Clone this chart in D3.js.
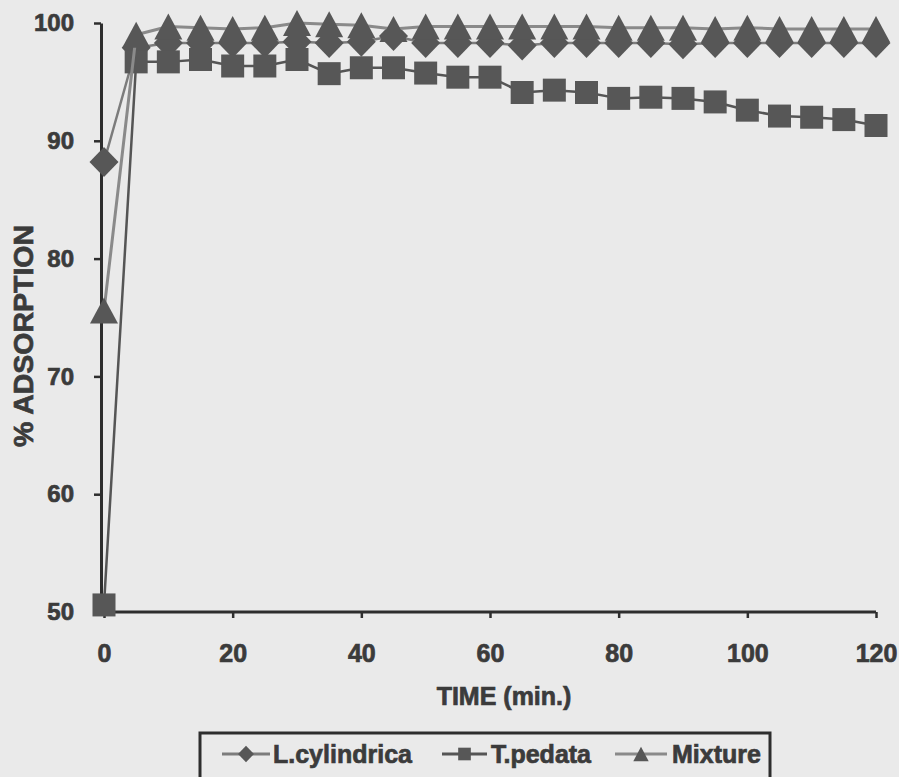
<!DOCTYPE html>
<html>
<head>
<meta charset="utf-8">
<script src="https://cdn.jsdelivr.net/npm/d3@7"></script>
<style>
  html, body { margin: 0; padding: 0; background: #eaeaea; }
  svg { display: block; }
  text { font-family: "Liberation Sans", Arial, sans-serif; font-weight: bold; fill: #3b3b3b; stroke: #3b3b3b; stroke-width: 0.7px; }
</style>
</head>
<body>
<svg id="chart" width="899" height="777"></svg>
<script>
// Sampling times (minutes)
const times = [0, 5, 10, 15, 20, 25, 30, 35, 40, 45, 50, 55, 60, 65, 70, 75, 80, 85, 90, 95, 100, 105, 110, 115, 120];

// Adsorption (%) per sorbent
const lCylindrica = [88.2, 97.9, 98.3, 98.3, 98.3, 98.3, 98.4, 98.3, 98.4, 98.9, 98.3, 98.3, 98.3, 98.1, 98.3, 98.3, 98.3, 98.3, 98.2, 98.3, 98.3, 98.3, 98.3, 98.3, 98.3];
const tPedata     = [50.6, 96.7, 96.7, 96.9, 96.35, 96.35, 96.9, 95.7, 96.2, 96.2, 95.75, 95.4, 95.4, 94.1, 94.3, 94.1, 93.6, 93.7, 93.6, 93.3, 92.6, 92.1, 92.0, 91.8, 91.3];
const mixture     = [75.6, 99.0, 99.7, 99.6, 99.5, 99.6, 100.0, 99.9, 99.8, 99.5, 99.7, 99.7, 99.7, 99.7, 99.7, 99.7, 99.6, 99.6, 99.6, 99.5, 99.6, 99.5, 99.5, 99.5, 99.5];

const seriesNames = ["L.cylindrica", "T.pedata", "Mixture"];
const xTicks = [0, 20, 40, 60, 80, 100, 120];
const yTicks = [50, 60, 70, 80, 90, 100];
const xTitle = "TIME (min.)";
const yTitle = "% ADSORPTION";

const svg = d3.select("#chart");

const x = d3.scaleLinear().domain([0, 120]).range([104, 876]);
const y = d3.scaleLinear().domain([50, 100]).range([612, 23]);

// Marker shapes, centred on the data point
const markerPaths = {
  diamond:  s => `M0,${-15*s}L${14.5*s},0L0,${15*s}L${-14.5*s},0Z`,
  square:   s => `M${-11.5*s},${-11.5*s}h${23*s}v${23*s}h${-23*s}Z`,
  triangle: s => `M0,${-13*s}L${14*s},${13*s}L${-14*s},${13*s}Z`
};

const series = [
  { name: seriesNames[0], values: lCylindrica, marker: "diamond",  lineColor: "#7c7c7c", lineWidth: 2.5 },
  { name: seriesNames[1], values: tPedata,     marker: "square",   lineColor: "#555555", lineWidth: 2.5 },
  { name: seriesNames[2], values: mixture,     marker: "triangle", lineColor: "#8a8a8a", lineWidth: 3 }
];
const markerFill = "#575757";

// Axes
const yAxis = d3.axisLeft(y).tickValues(yTicks).tickSize(7).tickPadding(20).tickSizeOuter(0);
const gy = svg.append("g").attr("transform", "translate(101,0)").call(yAxis);
gy.select(".domain").attr("stroke", "#2e2e2e").attr("stroke-width", 3);
gy.selectAll(".tick line").attr("stroke", "#2e2e2e").attr("stroke-width", 2.5);
gy.selectAll(".tick text").attr("font-size", 24).attr("fill", "#3b3b3b");

const xAxis = d3.axisBottom(x).tickValues(xTicks).tickSize(6).tickPadding(26).tickSizeOuter(0);
const gx = svg.append("g").attr("transform", `translate(0,${y(50)})`).call(xAxis);
gx.select(".domain").attr("stroke", "#2e2e2e").attr("stroke-width", 3).attr("d", `M101,0H${x(120)}`);
gx.selectAll(".tick line").attr("stroke", "#2e2e2e").attr("stroke-width", 2.5);
gx.selectAll(".tick text").attr("font-size", 25).attr("fill", "#3b3b3b");

// Axis titles
svg.append("text")
  .attr("x", 504).attr("y", 705)
  .attr("text-anchor", "middle")
  .attr("font-size", 25)
  .text(xTitle);

svg.append("text")
  .attr("transform", "translate(33,336) rotate(-90)")
  .attr("text-anchor", "middle")
  .attr("font-size", 27)
  .attr("textLength", 222)
  .attr("lengthAdjust", "spacingAndGlyphs")
  .text(yTitle);

// Series: line then markers, drawn in series order
const line = d3.line().x((d, i) => x(times[i])).y(d => y(d));
series.forEach(s => {
  const g = svg.append("g");
  g.append("path")
    .attr("d", line(s.values))
    .attr("fill", "none")
    .attr("stroke", s.lineColor)
    .attr("stroke-width", s.lineWidth)
    .attr("stroke-linejoin", "round");
  g.selectAll("path.marker")
    .data(s.values)
    .join("path")
    .attr("class", "marker")
    .attr("d", markerPaths[s.marker](1))
    .attr("transform", (d, i) => `translate(${x(times[i])},${y(d)})`)
    .attr("fill", markerFill);
});

// Legend
const legendBox = svg.append("g");
legendBox.append("rect")
  .attr("x", 200).attr("y", 733).attr("width", 570).attr("height", 60)
  .attr("fill", "#eaeaea").attr("stroke", "#2e2e2e").attr("stroke-width", 3);

const legendItems = [
  { lineX0: 222, lineX1: 270, textX: 273 },
  { lineX0: 442, lineX1: 487, textX: 491 },
  { lineX0: 615, lineX1: 667, textX: 672 }
];
const legendY = 754;
series.forEach((s, i) => {
  const li = legendItems[i];
  const g = legendBox.append("g");
  g.append("line")
    .attr("x1", li.lineX0).attr("x2", li.lineX1)
    .attr("y1", legendY).attr("y2", legendY)
    .attr("stroke", s.lineColor).attr("stroke-width", 3);
  g.append("path")
    .attr("d", markerPaths[s.marker](0.55))
    .attr("transform", `translate(${(li.lineX0 + li.lineX1) / 2},${legendY})`)
    .attr("fill", markerFill);
  g.append("text")
    .attr("x", li.textX).attr("y", legendY + 9)
    .attr("font-size", 25)
    .text(s.name);
});
</script>
</body>
</html>
